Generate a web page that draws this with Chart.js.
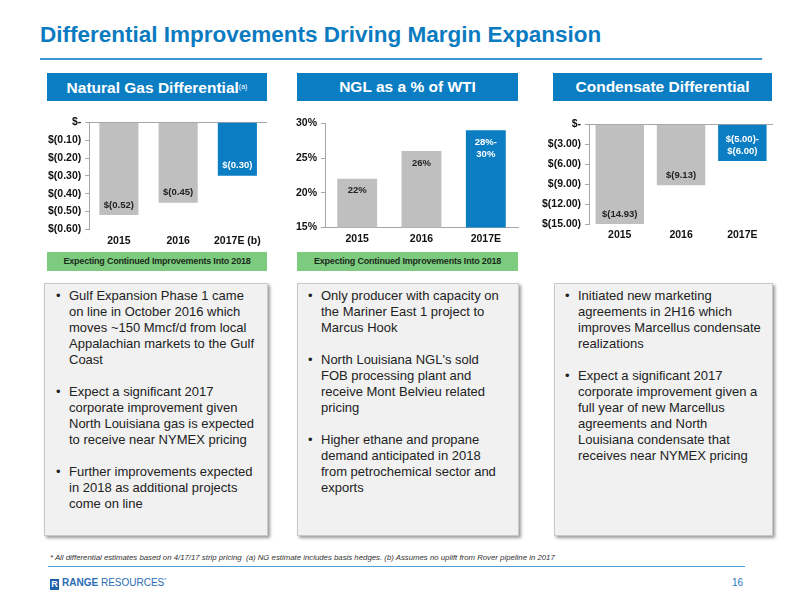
<!DOCTYPE html>
<html>
<head>
<meta charset="utf-8">
<script src="https://cdn.jsdelivr.net/npm/chart.js@4.4.0/dist/chart.umd.min.js"></script>
<style>
  body { margin: 0; width: 800px; height: 600px; background: #fff; font-family: "Liberation Sans", Arial, sans-serif; position: relative; overflow: hidden; }
  .abs { position: absolute; }
  #title { left: 40px; top: 22px; font-size: 22.5px; font-weight: bold; color: #0b7bc1; white-space: nowrap; }
  #titleLine { left: 40px; top: 58px; width: 722px; height: 2px; background: #3d95cf; }
  .hdr { top: 73px; height: 28px; background: #0b7dc3; color: #fff; font-weight: bold; font-size: 15.5px; line-height: 28px; text-align: center; }
  .hdr sup { font-size: 7px; font-weight: normal; vertical-align: 4px; }
  .green { top: 252px; height: 19px; background: #7ccb7f; color: #1c2b1c; font-weight: bold; font-size: 9px; line-height: 19px; text-align: center; letter-spacing: -0.2px; }
  .box { top: 283px; height: 253px; background: #f1f1f1; border: 1px solid #c8c8c8; box-shadow: 2px 2px 3px #9a9a9a; box-sizing: border-box; }
  .box ul { margin: 0; list-style: none; }
  .box li { position: relative; font-size: 13px; line-height: 16px; color: #222; margin-bottom: 16px; }
  .box li::before { content: "\2022"; position: absolute; left: -13px; }
  .chart { position: absolute; }
  #foot { left: 50px; top: 553px; font-size: 7.8px; font-style: italic; color: #333; white-space: nowrap; }
  #footLine { left: 48px; top: 566px; width: 697px; height: 1px; background: #4b9fd4; }
  #logo { left: 50px; top: 577px; font-size: 10px; color: #2a6db5; white-space: nowrap; }
  #logo .icon { display: inline-block; width: 9px; height: 11px; background: #1f5ea8; color: #fff; font-size: 9px; font-weight: bold; line-height: 11px; text-align: center; vertical-align: -1px; margin-right: 3px; }
  #page { left: 732px; top: 577px; font-size: 10px; color: #1f79c0; }
</style>
</head>
<body>
<div id="title" class="abs">Differential Improvements Driving Margin Expansion</div>
<div id="titleLine" class="abs"></div>

<div class="abs hdr" style="left:47px;width:220px;">Natural Gas Differential<sup>(a)</sup></div>
<div class="abs hdr" style="left:297px;width:221px;">NGL as a % of WTI</div>
<div class="abs hdr" style="left:553px;width:219px;">Condensate Differential</div>

<div class="chart" style="left:44px;top:112px;width:226px;height:140px;"><canvas id="ngChart"></canvas></div>
<div class="chart" style="left:292px;top:113px;width:229px;height:137px;"><canvas id="nglChart"></canvas></div>
<div class="chart" style="left:538px;top:114px;width:238px;height:131px;"><canvas id="condChart"></canvas></div>

<div class="abs green" style="left:47px;width:220px;">Expecting Continued Improvements Into 2018</div>
<div class="abs green" style="left:297px;width:221px;">Expecting Continued Improvements Into 2018</div>

<div class="abs box" style="left:44px;width:224px;">
  <ul style="padding:4px 0 0 24px;width:190px;">
    <li>Gulf Expansion Phase 1 came on line in October 2016 which moves ~150 Mmcf/d from local Appalachian markets to the Gulf Coast</li>
    <li>Expect a significant 2017 corporate improvement given North Louisiana gas is expected to receive near NYMEX pricing</li>
    <li>Further improvements expected in 2018 as additional projects come on line</li>
  </ul>
</div>
<div class="abs box" style="left:297px;width:222px;">
  <ul style="padding:4px 0 0 23px;width:184px;">
    <li>Only producer with capacity on the Mariner East 1 project to Marcus Hook</li>
    <li>North Louisiana NGL's sold FOB processing plant and receive Mont Belvieu related pricing</li>
    <li>Higher ethane and propane demand anticipated in 2018 from petrochemical sector and exports</li>
  </ul>
</div>
<div class="abs box" style="left:554px;width:219px;">
  <ul style="padding:4px 0 0 23px;width:186px;">
    <li>Initiated new marketing agreements in 2H16 which improves Marcellus condensate realizations</li>
    <li>Expect a significant 2017 corporate improvement given a full year of new Marcellus agreements and North Louisiana condensate that receives near NYMEX pricing</li>
  </ul>
</div>

<div id="foot" class="abs">* All differential estimates based on 4/17/17 strip pricing&nbsp; (a) NG estimate includes basis hedges. (b) Assumes no uplift from Rover pipeline in 2017</div>
<div id="footLine" class="abs"></div>
<div id="logo" class="abs"><span class="icon">R</span><b>RANGE</b> RESOURCES<sup style="font-size:5px;">*</sup></div>
<div id="page" class="abs">16</div>

<script>
// Natural gas differential ($/mcf)
const ngCategories = ['2015', '2016', '2017E (b)'];
const ngValues = [-0.52, -0.45, -0.30];
const ngLabels = [['$(0.52)'], ['$(0.45)'], ['$(0.30)']];
const ngTickValues = [-0.6, -0.5, -0.4, -0.3, -0.2, -0.1, 0];
const ngTickLabels = ['$(0.60)', '$(0.50)', '$(0.40)', '$(0.30)', '$(0.20)', '$(0.10)', '$-'];

// NGL as % of WTI
const nglCategories = ['2015', '2016', '2017E'];
const nglValues = [22, 26, 29];
const nglLabels = [['22%'], ['26%'], ['28%-', '30%']];
const nglTickValues = [15, 20, 25, 30];
const nglTickLabels = ['15%', '20%', '25%', '30%'];

// Condensate differential ($/bbl)
const condCategories = ['2015', '2016', '2017E'];
const condValues = [-14.93, -9.13, -5.5];
const condLabels = [['$(14.93)'], ['$(9.13)'], ['$(5.00)-', '$(6.00)']];
const condTickValues = [-15, -12, -9, -6, -3, 0];
const condTickLabels = ['$(15.00)', '$(12.00)', '$(9.00)', '$(6.00)', '$(3.00)', '$-'];

const GREY = '#bfbfbf';
const BLUE = '#0b7dc3';
const FONT = "'Liberation Sans', Arial, sans-serif";

// draws the value text inside the end of each bar
const barText = {
  id: 'barText',
  afterDatasetsDraw(chart, args, opts) {
    const ctx = chart.ctx;
    const meta = chart.getDatasetMeta(0);
    ctx.save();
    ctx.font = 'bold 9.5px ' + FONT;
    ctx.textAlign = 'center';
    ctx.textBaseline = 'middle';
    meta.data.forEach((bar, i) => {
      const lines = opts.labels[i];
      const down = bar.y > bar.base; // negative bar grows downward
      const lh = 12;
      const start = down ? bar.y - opts.offset - (lines.length - 1) * lh : bar.y + opts.offset;
      ctx.fillStyle = i === meta.data.length - 1 ? '#fff' : '#222';
      lines.forEach((t, j) => ctx.fillText(t, bar.x, start + j * lh));
    });
    ctx.restore();
  }
};

function makeChart(id, categories, values, labels, tickValues, tickLabels, opt) {
  return new Chart(document.getElementById(id), {
    type: 'bar',
    data: {
      labels: categories,
      datasets: [{
        data: values,
        backgroundColor: values.map((v, i) => i === values.length - 1 ? BLUE : GREY),
        borderWidth: 0,
        barPercentage: opt.barPct,
        categoryPercentage: 1
      }]
    },
    options: {
      responsive: true,
      maintainAspectRatio: false,
      animation: false,
      layout: { padding: opt.padding },
      plugins: {
        legend: { display: false },
        tooltip: { enabled: false },
        barText: { labels: labels, offset: opt.offset }
      },
      scales: {
        x: {
          grid: { display: false, drawTicks: false },
          border: { display: opt.bottomAxis, color: '#a6a6a6' },
          ticks: { color: '#111', font: { family: FONT, size: 10.5, weight: 'bold' }, padding: opt.xPad }
        },
        y: {
          min: tickValues[0],
          max: tickValues[tickValues.length - 1],
          afterBuildTicks: (axis) => { axis.ticks = tickValues.map(v => ({ value: v })); },
          grid: {
            color: (c) => (!opt.bottomAxis && c.tick && c.tick.value === 0) ? '#a6a6a6' : 'transparent',
            tickColor: '#a6a6a6',
            tickLength: 4
          },
          border: { display: true, color: '#a6a6a6' },
          ticks: {
            color: '#111',
            font: { family: FONT, size: 10.5, weight: 'bold' },
            padding: 4,
            callback: (v) => tickLabels[tickValues.indexOf(v)]
          }
        }
      }
    },
    plugins: [barText]
  });
}

makeChart('ngChart', ngCategories, ngValues, ngLabels, ngTickValues, ngTickLabels,
  { barPct: 0.66, offset: 10, bottomAxis: false, xPad: 5, padding: { top: 4, right: 3 } });
makeChart('nglChart', nglCategories, nglValues, nglLabels, nglTickValues, nglTickLabels,
  { barPct: 0.62, offset: 12, bottomAxis: true, xPad: 5, padding: { top: 4, right: 3 } });
makeChart('condChart', condCategories, condValues, condLabels, condTickValues, condTickLabels,
  { barPct: 0.79, offset: 10, bottomAxis: false, xPad: 4, padding: { top: 4, right: 3 } });
</script>
</body>
</html>
